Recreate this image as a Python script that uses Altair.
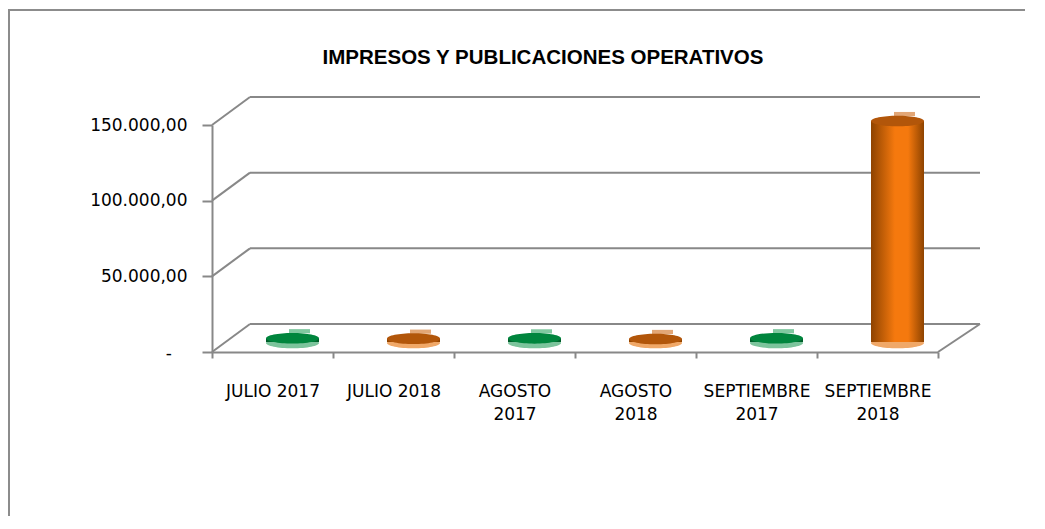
import altair as alt
import pandas as pd

# ---- data ----
categories = ["JULIO 2017", "JULIO 2018", "AGOSTO 2017", "AGOSTO 2018",
              "SEPTIEMBRE 2017", "SEPTIEMBRE 2018"]
years = ["2017", "2018", "2017", "2018", "2017", "2018"]
values = [2500, 2200, 2400, 2000, 2500, 146000]
y_ticks = [0, 50000, 100000, 150000]
title_text = "IMPRESOS Y PUBLICACIONES OPERATIVOS"
zero_label = "-"

df = pd.DataFrame({"cat": categories, "year": years, "value": values, "zero": [0] * len(values)})
grid_df = pd.DataFrame({"v": y_ticks, "v2": y_ticks})
floor_df = pd.DataFrame({"v": [0], "v2": [0], "lab": [zero_label]})
title_df = pd.DataFrame({"t": [title_text]})
frame_df = pd.DataFrame({"a": [0]})

# ---- styling ----
GRID = "#888888"
DEPTH_X = 38
DEPTH_Y = 28
PLOT_W = 768
FRONT_W = 726
PLOT_H = 227
BAR_W = 53
ELL = "M -1 0 C -1 -0.11 -0.552 -0.2 0 -0.2 C 0.552 -0.2 1 -0.11 1 0 C 1 0.11 0.552 0.2 0 0.2 C -0.552 0.2 -1 0.11 -1 0 Z"
RECT = "M -1 -0.2 L 1 -0.2 L 1 0.2 L -1 0.2 Z"

palette = {
    "2017": {"edge": "#005A28", "mid": "#00A04C", "top": "#00853D", "bottom": "#7CC49C", "hi": "#80C8A0"},
    "2018": {"edge": "#8E4300", "mid": "#F5790E", "top": "#B2560A", "bottom": "#F0A868", "hi": "#E2A676"},
}

yscale = alt.Scale(domain=[0, 150000], nice=False, zero=True)
xscale = alt.Scale(domain=categories, range=[0, FRONT_W], paddingInner=0, paddingOuter=0)

x_axis = alt.Axis(
    title=None, labelAngle=0, tickBand="extent", tickSize=6, tickColor=GRID, tickWidth=2,
    domainColor=GRID, domainWidth=2, labelFont="DejaVu Sans", labelFontSize=17,
    labelColor="#000000", labelPadding=25, labelLineHeight=23, labelBaseline="top",
    labelExpr="length(datum.label) > 10 ? split(datum.label, ' ') : datum.label",
)
y_axis = alt.Axis(
    title=None, values=y_ticks, grid=False, tickSize=10, tickColor=GRID, tickWidth=2,
    domainColor=GRID, domainWidth=2, labelFont="DejaVu Sans", labelFontSize=17,
    labelColor="#000000", labelPadding=15,
    labelExpr="datum.value == 0 ? '' : replace(replace(replace(format(datum.value, ',.2f'), ',', '#'), '.', ','), '#', '.')",
)


def yenc(field):
    return alt.Y(field, scale=yscale, axis=y_axis)


xenc = alt.X("cat:N", scale=xscale, sort=categories, axis=x_axis)

frame = alt.Chart(frame_df).mark_rect(fill=None, stroke="#8C8C8C", strokeWidth=2).encode(
    x=alt.value(-203), x2=alt.value(843), y=alt.value(-115), y2=alt.value(414)
)

back_grid = alt.Chart(grid_df).mark_rule(color=GRID, strokeWidth=2, yOffset=-DEPTH_Y).encode(
    y=yenc("v:Q"), x=alt.value(DEPTH_X), x2=alt.value(PLOT_W)
)
diag_grid = alt.Chart(grid_df).mark_rule(color=GRID, strokeWidth=2, y2Offset=-DEPTH_Y).encode(
    y=yenc("v:Q"), y2="v2:Q", x=alt.value(0), x2=alt.value(DEPTH_X)
)
floor_diag = alt.Chart(floor_df).mark_rule(color=GRID, strokeWidth=2, y2Offset=-DEPTH_Y).encode(
    y=yenc("v:Q"), y2="v2:Q", x=alt.value(FRONT_W), x2=alt.value(PLOT_W)
)
zero_text = alt.Chart(floor_df).mark_text(
    font="DejaVu Sans", fontSize=17, color="#000000", align="right", baseline="middle", dy=2
).encode(y=yenc("v:Q"), x=alt.value(-40), text="lab:N")

title = alt.Chart(title_df).mark_text(
    font="Liberation Sans", fontWeight="bold", fontSize=20.5, color="#000000",
    align="center", baseline="middle"
).encode(text="t:N", x=alt.value(331), y=alt.value(-67))

layers = [frame, back_grid, diag_grid, floor_diag, zero_text, title]

for yr in ["2017", "2018"]:
    p = palette[yr]
    base = alt.Chart(df).transform_filter(alt.datum.year == yr)
    grad = alt.LinearGradient(
        gradient="linear", x1=0, x2=1, y1=0, y2=0,
        stops=[
            alt.GradientStop(color=p["edge"], offset=0),
            alt.GradientStop(color=p["mid"], offset=0.45),
            alt.GradientStop(color=p["mid"], offset=0.7),
            alt.GradientStop(color=p["edge"], offset=1),
        ],
    )
    bottom = base.mark_point(shape=ELL, size=BAR_W * BAR_W, filled=True, opacity=1,
                             strokeWidth=0, color=p["bottom"], xOffset=20, yOffset=-9).encode(
        x=xenc, y=yenc("zero:Q"))
    body = base.mark_bar(width=BAR_W, color=grad, xOffset=20, yOffset=-10, y2Offset=-10).encode(
        x=xenc, y=yenc("value:Q"), y2="zero:Q")
    hi = base.mark_point(shape=RECT, size=441, filled=True, opacity=1, strokeWidth=0,
                         color=p["hi"], xOffset=27, yOffset=-17).encode(
        x=xenc, y=yenc("value:Q"))
    top = base.mark_point(shape=ELL, size=BAR_W * BAR_W, filled=True, opacity=1,
                          strokeWidth=0, color=p["top"], xOffset=20, yOffset=-10).encode(
        x=xenc, y=yenc("value:Q"))
    layers += [bottom, body, hi, top]

chart = alt.layer(*layers).properties(
    width=PLOT_W, height=PLOT_H,
    autosize=alt.AutoSizeParams(type="none"),
    padding={"left": 204, "top": 117, "right": 45, "bottom": 164},
    background="white",
).configure_view(stroke=None)

chart.save("out.html", embed_options={"renderer": "svg", "actions": False})
